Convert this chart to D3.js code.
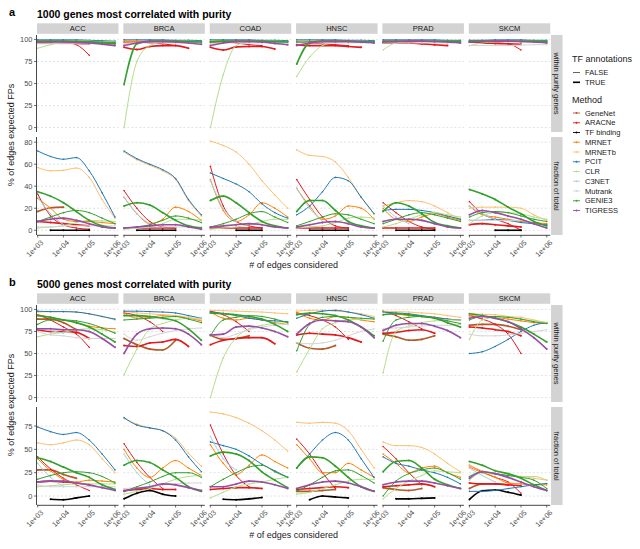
<!DOCTYPE html>
<html>
<head>
<meta charset="utf-8">
<script src="https://cdn.jsdelivr.net/npm/d3@7"></script>
<style>
  body { margin: 0; background: #fff; }
  text { font-family: "Liberation Sans", Arial, sans-serif; }
</style>
</head>
<body>
<svg id="chart" width="640" height="549"></svg>
<script>
  var cancers = ["ACC", "BRCA", "COAD", "HNSC", "PRAD", "SKCM"];
  var methods = ["GeneNet", "ARACNe", "TF binding", "MRNET", "MRNETb", "PCIT", "CLR", "C3NET", "Mutrank", "GENIE3", "TIGRESS"];
  var methodColors = ["#b15928", "#e31a1c", "#000000", "#ff7f00", "#fdbf6f", "#1f78b4", "#b2df8a", "#a6cee3", "#d4d4d4", "#33a02c", "#984ea3"];
  var edgeGrid = [1000, 3162, 10000, 31623, 100000, 316228, 1000000];
  var xTicks = [1e3, 1e4, 1e5, 1e6];
  var xTickLabels = ["1e+03", "1e+04", "1e+05", "1e+06"];
  var tfLevels = ["FALSE", "TRUE"];
  var F = false, T = true, _ = null;

  // a: 1000 genes, within purity genes
  var withinA = [
    ["ACC","Mutrank",F,[95,95,95,95,95,95,95]],
    ["ACC","C3NET",F,[97,97,96.5,96,96,_,_]],
    ["ACC","ARACNe",F,[98,98,97,94,82,_,_]],
    ["ACC","ARACNe",T,[96,96,96,95.5,95,_,_]],
    ["ACC","MRNET",F,[98,98,98,97.5,97,96.5,96]],
    ["ACC","MRNETb",F,[99,99,99,99,98.5,98,97]],
    ["ACC","PCIT",F,[99.5,99.5,99.5,99.5,99,98.5,98]],
    ["ACC","CLR",F,[90,94,97,98,98,97.5,97]],
    ["ACC","GENIE3",F,[97,97.5,98,98,97.5,97,96.5]],
    ["ACC","GENIE3",T,[98,98,98,97.5,97,96,95]],
    ["ACC","TIGRESS",T,[97,97,97,96.5,96,94.5,93]],

    ["BRCA","Mutrank",F,[95,96,96,96,96,96,96]],
    ["BRCA","ARACNe",F,[97,97,96,95,93,_,_]],
    ["BRCA","ARACNe",T,[91,88.5,92,93,93,90,_]],
    ["BRCA","MRNET",F,[97,97.5,98,98,98,97.5,97]],
    ["BRCA","MRNETb",F,[99,99,99,99,98.5,98,97.5]],
    ["BRCA","PCIT",F,[99.5,99.5,99.5,99.5,99,99,98.5]],
    ["BRCA","CLR",F,[0,75,93,97,98,98,97.5]],
    ["BRCA","GENIE3",T,[49,95,98,98,98,97.5,97]],
    ["BRCA","TIGRESS",T,[93,96,97.5,97.5,97,96,94.5]],

    ["COAD","Mutrank",F,[95,96,96,96,96,96,96]],
    ["COAD","ARACNe",F,[97,97,96,94,93,_,_]],
    ["COAD","ARACNe",T,[91,88,91.5,92,92,89,_]],
    ["COAD","MRNET",F,[97,97.5,98,98,98,97.5,97]],
    ["COAD","MRNETb",F,[99,99,99,99,98.5,98,97.5]],
    ["COAD","PCIT",F,[99.5,99.5,99.5,99.5,99,99,98.5]],
    ["COAD","CLR",F,[0,60,93,97,98,98,97.5]],
    ["COAD","GENIE3",T,[97,98,98,98,98,97.5,97]],
    ["COAD","TIGRESS",T,[93,96,97.5,97.5,97,95.5,94]],

    ["HNSC","Mutrank",F,[96,96,96,96,96,96,96]],
    ["HNSC","ARACNe",F,[97,96,95,94,93,_,_]],
    ["HNSC","ARACNe",T,[94,93,93,93,92,91,_]],
    ["HNSC","MRNETb",F,[99,99,99,99,98.5,98,97.5]],
    ["HNSC","PCIT",F,[99.5,99.5,99.5,99.5,99,99,98.5]],
    ["HNSC","CLR",F,[58,80,93,97,98,98,97.5]],
    ["HNSC","GENIE3",F,[97,97.5,98,98,98,97.5,97]],
    ["HNSC","GENIE3",T,[72,96,98,98,98,97.5,97]],
    ["HNSC","TIGRESS",T,[93,96,97.5,97.5,97.5,97,96]],

    ["PRAD","Mutrank",F,[96,96,96,96,96,96,96]],
    ["PRAD","ARACNe",F,[97,97,96,95,94,_,_]],
    ["PRAD","ARACNe",T,[96,96,96,95,94,93,_]],
    ["PRAD","MRNETb",F,[99,99,99,99,99,98.5,98]],
    ["PRAD","PCIT",F,[99.5,99.5,99.5,99.5,99.5,99,99]],
    ["PRAD","CLR",F,[88,96,97.5,98,98,98,97.5]],
    ["PRAD","GENIE3",T,[98,98,98,98,98,98,97.5]],
    ["PRAD","TIGRESS",T,[97,97.5,98,98,97.5,97,96]],

    ["SKCM","Mutrank",F,[93,93,93,93,93.5,94,94]],
    ["SKCM","ARACNe",F,[97,96.5,96,95,88,_,_]],
    ["SKCM","ARACNe",T,[97,96,95.5,95,94.5,_,_]],
    ["SKCM","MRNETb",F,[99,99,99,99,99,98.5,98]],
    ["SKCM","PCIT",F,[99,99,99.5,99.5,99.5,99,99]],
    ["SKCM","CLR",F,[93,96,97,98,98,98,97.5]],
    ["SKCM","GENIE3",T,[98,98,98,98,98,98,97.5]],
    ["SKCM","TIGRESS",T,[97,97.5,98,98,97.5,97,96]]
  ];

  // a: 1000 genes, fraction of total
  var fractionA = [
    ["ACC","Mutrank",F,[3,3,4,4,4,4,4]],
    ["ACC","C3NET",F,[30,15,5,_,_,_,_]],
    ["ACC","GeneNet",T,[17,20.5,21,_,_,_,_]],
    ["ACC","ARACNe",F,[33,13,5,2,1,_,_]],
    ["ACC","ARACNe",T,[8,7,6,5,4,_,_]],
    ["ACC","TF binding",T,[_,0,0,0,0,_,_]],
    ["ACC","MRNET",F,[29,20,10,8,8,7,6]],
    ["ACC","MRNETb",F,[57,54,54.5,56.5,48,28,11]],
    ["ACC","PCIT",F,[72,67,64.5,66,54,34,12]],
    ["ACC","CLR",F,[2,3,4,7,9,8.5,8]],
    ["ACC","GENIE3",F,[8,12,16,18,16,11,6]],
    ["ACC","GENIE3",T,[35,31,25,17,9,4,2]],
    ["ACC","TIGRESS",T,[8,10,11,9,6,3,2]],

    ["BRCA","Mutrank",F,[2,2,3,3,3,3,3]],
    ["BRCA","C3NET",F,[30,15,6,_,_,_,_]],
    ["BRCA","ARACNe",F,[36,20,8,3,2,_,_]],
    ["BRCA","ARACNe",T,[2,2,2,2,2,_,_]],
    ["BRCA","TF binding",T,[_,0,0,0,0,_,_]],
    ["BRCA","MRNET",F,[30,15,6,10,21,17,9]],
    ["BRCA","MRNETb",F,[71,64,59,54,46,27,13]],
    ["BRCA","PCIT",F,[72,65,60,55,47,28,14]],
    ["BRCA","CLR",F,[1,2,3,6,10,10,9]],
    ["BRCA","GENIE3",F,[2,3,5,9,13,11,7]],
    ["BRCA","GENIE3",T,[22,25,23,16,9,4,2]],
    ["BRCA","TIGRESS",T,[2,3,4,5,5,3,1]],

    ["COAD","C3NET",F,[45,20,8,_,_,_,_]],
    ["COAD","ARACNe",F,[58,22,8,4,2,_,_]],
    ["COAD","ARACNe",T,[2,2,2,2,2,_,_]],
    ["COAD","TF binding",T,[_,_,0,0,0,_,_]],
    ["COAD","MRNET",F,[46,18,8,14,25,20,12]],
    ["COAD","MRNETb",F,[81,77,71,60,45,32,20]],
    ["COAD","PCIT",F,[52,47,42,35,24,16,11]],
    ["COAD","CLR",F,[1,2,3,5,8,10,10]],
    ["COAD","GENIE3",F,[3,6,10,15,17,12,7]],
    ["COAD","GENIE3",T,[27,31,25,16,8,4,2]],
    ["COAD","TIGRESS",T,[3,4,5,6,5,3,2]],

    ["HNSC","C3NET",F,[38,20,8,_,_,_,_]],
    ["HNSC","ARACNe",F,[46,28,12,4,2,_,_]],
    ["HNSC","ARACNe",T,[2,2,2,2,2,_,_]],
    ["HNSC","TF binding",T,[_,0,0,0,0,_,_]],
    ["HNSC","MRNET",F,[38,22,10,13,22,20,10]],
    ["HNSC","MRNETb",F,[73,68,67,62,48,30,15]],
    ["HNSC","PCIT",F,[14,22,35,48,45,30,15]],
    ["HNSC","CLR",F,[2,3,4,7,11,12,11]],
    ["HNSC","GENIE3",F,[4,8,12,15,14,10,6]],
    ["HNSC","GENIE3",T,[17,27,27,18,8,4,2]],
    ["HNSC","TIGRESS",T,[3,5,7,8,6,3,2]],

    ["PRAD","C3NET",F,[22,12,6,_,_,_,_]],
    ["PRAD","ARACNe",F,[25,16,8,3,1,_,_]],
    ["PRAD","ARACNe",T,[2,2,2,2,2,_,_]],
    ["PRAD","TF binding",T,[_,0,0,0,0,_,_]],
    ["PRAD","MRNET",F,[20,10,8,12,15,12,9]],
    ["PRAD","MRNETb",F,[22,25,27,26,22,16,10]],
    ["PRAD","PCIT",F,[18,19,19,18,16,13,10]],
    ["PRAD","CLR",F,[3,6,10,14,16,14,12]],
    ["PRAD","GENIE3",F,[6,10,14,16,14,11,8]],
    ["PRAD","GENIE3",T,[17,25,22,15,7,4,2]],
    ["PRAD","TIGRESS",T,[8,10,10,9,6,3,2]],

    ["SKCM","Mutrank",F,[9,9,9,9,9,_,_]],
    ["SKCM","C3NET",F,[22,15,10,_,_,_,_]],
    ["SKCM","ARACNe",F,[26,15,10,6,0,_,_]],
    ["SKCM","ARACNe",T,[5,6,5,4,3,_,_]],
    ["SKCM","TF binding",T,[_,_,0,0,0,_,_]],
    ["SKCM","MRNET",F,[22,14,12,10,8,7,6]],
    ["SKCM","MRNETb",F,[20,21,21,21,20,14,9]],
    ["SKCM","PCIT",F,[9,9,10,9,7,6,5]],
    ["SKCM","CLR",F,[6,13,16,16,15,12,10]],
    ["SKCM","GENIE3",F,[12,16,17,16,13,10,8]],
    ["SKCM","GENIE3",T,[37,33,28,21,15,8,4]],
    ["SKCM","TIGRESS",T,[14,18,16,13,10,6,2]]
  ];

  // b: 5000 genes, within purity genes
  var withinB = [
    ["ACC","Mutrank",F,[75,71,70,68,67,67,67]],
    ["ACC","C3NET",F,[78,76,73,_,_,_,_]],
    ["ACC","GeneNet",T,[89,89,85,77,_,_,_]],
    ["ACC","ARACNe",F,[94,88,80,72,57,_,_]],
    ["ACC","ARACNe",T,[77,75,75,74,67,_,_]],
    ["ACC","MRNET",F,[94,91,88,85,81,79,78]],
    ["ACC","MRNETb",F,[97,97.5,97.5,97,95,92,88]],
    ["ACC","PCIT",F,[98,97.5,97.5,97,95,92,89]],
    ["ACC","CLR",F,[69,72,74,77,78,77,74]],
    ["ACC","GENIE3",F,[83,88,88,87,84,79,73]],
    ["ACC","GENIE3",T,[93,91,88,85,80,72,63]],
    ["ACC","TIGRESS",T,[78,78,77,77,75,67,57]],

    ["BRCA","Mutrank",F,[72,65,69,73,76,78,79]],
    ["BRCA","GeneNet",T,[67,60,55,54,65,_,_]],
    ["BRCA","ARACNe",F,[96,93,86,75,_,_,_]],
    ["BRCA","ARACNe",T,[59,58,62,63,66,58,_]],
    ["BRCA","MRNET",F,[96,90,91,93,92,90,87]],
    ["BRCA","MRNETb",F,[98,96,95,94,93,91,88]],
    ["BRCA","PCIT",F,[98,98,97.5,97,96,93,90]],
    ["BRCA","CLR",F,[26,55,78,84,88,90,90]],
    ["BRCA","GENIE3",F,[88,89,90,91,92,89,85]],
    ["BRCA","GENIE3",T,[93,93,92,90,87,78,65]],
    ["BRCA","TIGRESS",T,[50,72,78,79,78,72,60]],

    ["COAD","Mutrank",F,[72,68,72,77,80,82,83]],
    ["COAD","GeneNet",T,[71,66,67,70,_,_,_]],
    ["COAD","ARACNe",F,[98,94,86,75,_,_,_]],
    ["COAD","ARACNe",T,[60,65,67,68,68,61,_]],
    ["COAD","MRNET",F,[97,90,88,90,88,85,83]],
    ["COAD","MRNETb",F,[99,98.5,98,97.5,97,96,95]],
    ["COAD","PCIT",F,[97,95.5,93,90,88,87,86]],
    ["COAD","CLR",F,[0,45,68,78,82,84,85]],
    ["COAD","GENIE3",F,[70,88,91,93,92,89,85]],
    ["COAD","GENIE3",T,[96,95,94,92,89,83,75]],
    ["COAD","TIGRESS",T,[71,72,80,81,79,75,69]],

    ["HNSC","Mutrank",F,[62,61,62,65,70,75,78]],
    ["HNSC","GeneNet",T,[62,56,55,59,_,_,_]],
    ["HNSC","ARACNe",F,[96,93,88,80,66,_,_]],
    ["HNSC","ARACNe",T,[71,73,72,71,68,63,_]],
    ["HNSC","MRNET",F,[97,90,88,92,91,88,86]],
    ["HNSC","MRNETb",F,[98,99,99,98,97,95,92]],
    ["HNSC","PCIT",F,[90,95,98,99,97,94,90]],
    ["HNSC","CLR",F,[29,55,78,85,88,89,90]],
    ["HNSC","GENIE3",F,[53,83,91,92,91,90,89]],
    ["HNSC","GENIE3",T,[94,96,95,93,88,80,70]],
    ["HNSC","TIGRESS",T,[72,84,88,87,86,80,68]],

    ["PRAD","Mutrank",F,[78,79,80,81,82,82,83]],
    ["PRAD","GeneNet",T,[72,69,65,66,70,_,_]],
    ["PRAD","ARACNe",F,[98,93,86,78,_,_,_]],
    ["PRAD","ARACNe",T,[73,74,76,77,73,_,_]],
    ["PRAD","MRNET",F,[98,95,93,92,91,89,88]],
    ["PRAD","MRNETb",F,[98,97.5,97,96,95,93,91]],
    ["PRAD","PCIT",F,[97,96,95,93,91,89,88]],
    ["PRAD","CLR",F,[28,75,81,85,87,88,88]],
    ["PRAD","GENIE3",F,[64,88,91,92,90,87,84]],
    ["PRAD","GENIE3",T,[94,95,94,92,90,85,80]],
    ["PRAD","TIGRESS",T,[76,82,84,84,81,76,68]],

    ["SKCM","Mutrank",F,[72,70,70,71,73,75,77]],
    ["SKCM","GeneNet",T,[82,83,83,81,77,_,_]],
    ["SKCM","ARACNe",F,[93,89,83,72,50,_,_]],
    ["SKCM","ARACNe",T,[80,79,77,75,70,_,_]],
    ["SKCM","MRNET",F,[93,92,91,89,87,85,84]],
    ["SKCM","MRNETb",F,[95,94.5,94,92,91,88,85]],
    ["SKCM","PCIT",F,[50,52,58,66,75,82,85]],
    ["SKCM","CLR",F,[66,88,91,91,89,87,85]],
    ["SKCM","GENIE3",F,[88,92,92,91,89,86,84]],
    ["SKCM","GENIE3",T,[95,93,90,86,80,72,63]],
    ["SKCM","TIGRESS",T,[90,92,90,86,78,68,55]]
  ];

  // b: 5000 genes, fraction of total
  var fractionB = [
    ["ACC","Mutrank",F,[12,10,10,10,10,10,10]],
    ["ACC","C3NET",F,[35,20,10,_,_,_,_]],
    ["ACC","GeneNet",T,[28,28,23,19,_,_,_]],
    ["ACC","ARACNe",F,[42,29,19,12,6,_,_]],
    ["ACC","ARACNe",T,[15,16,15,14,12,_,_]],
    ["ACC","TF binding",T,[_,-3.5,-4,-2,0,_,_]],
    ["ACC","MRNET",F,[40,27,18,15,17,16,15]],
    ["ACC","MRNETb",F,[57,55,57,60,55,40,25]],
    ["ACC","PCIT",F,[74,69,66,68,60,45,28]],
    ["ACC","CLR",F,[10,11,12,13,13,13,13]],
    ["ACC","GENIE3",F,[18,22,25,26,25,21,14]],
    ["ACC","GENIE3",T,[41,37,31,25,20,12,7]],
    ["ACC","TIGRESS",T,[15,16,16,14,12,9,6]],

    ["BRCA","Mutrank",F,[8,9,10,12,13,14,14]],
    ["BRCA","C3NET",F,[45,25,12,_,_,_,_]],
    ["BRCA","ARACNe",F,[56,36,20,8,_,_,_]],
    ["BRCA","ARACNe",T,[6,7,8,7,7,_,_]],
    ["BRCA","TF binding",T,[-3,3,6,2,0,_,_]],
    ["BRCA","MRNET",F,[50,30,20,30,38,30,22]],
    ["BRCA","MRNETb",F,[83,77,73,70,62,46,32]],
    ["BRCA","PCIT",F,[84,76,73,70,60,42,26]],
    ["BRCA","CLR",F,[2,5,8,13,18,21,22]],
    ["BRCA","GENIE3",F,[5,10,15,21,25,25,20]],
    ["BRCA","GENIE3",T,[33,38,36,28,20,10,5]],
    ["BRCA","TIGRESS",T,[5,8,10,13,12,9,6]],

    ["COAD","C3NET",F,[64,40,28,_,_,_,_]],
    ["COAD","ARACNe",F,[76,45,22,10,_,_,_]],
    ["COAD","ARACNe",T,[7,8,9,9,8,_,_]],
    ["COAD","TF binding",T,[_,-3.5,-4,-3,-1.5,_,_]],
    ["COAD","MRNET",F,[55,35,23,33,44,37,30]],
    ["COAD","MRNETb",F,[90,88,84,78,70,60,48]],
    ["COAD","PCIT",F,[58,54,50,43,34,27,20]],
    ["COAD","CLR",F,[-2,4,10,13,15,18,20]],
    ["COAD","GENIE3",F,[10,18,25,31,33,26,20]],
    ["COAD","GENIE3",T,[43,47,45,38,26,17,9]],
    ["COAD","TIGRESS",T,[10,10,13,16,15,12,8]],

    ["HNSC","GeneNet",T,[5,5,6,7,_,_,_]],
    ["HNSC","ARACNe",F,[61,45,25,8,_,_,_]],
    ["HNSC","ARACNe",T,[7,8,9,10,9,_,_]],
    ["HNSC","TF binding",T,[_,-4,0,-1,-2,_,_]],
    ["HNSC","MRNET",F,[55,40,25,25,35,28,20]],
    ["HNSC","MRNETb",F,[79,78,79,78,70,50,30]],
    ["HNSC","PCIT",F,[30,45,60,68,60,40,20]],
    ["HNSC","CLR",F,[2,4,8,12,16,18,18]],
    ["HNSC","GENIE3",F,[5,12,20,27,28,22,14]],
    ["HNSC","GENIE3",T,[30,42,41,32,20,10,5]],
    ["HNSC","TIGRESS",T,[8,12,15,16,14,10,5]],

    ["PRAD","GeneNet",T,[9,7,6,8,_,_,_]],
    ["PRAD","ARACNe",F,[53,40,25,12,_,_,_]],
    ["PRAD","ARACNe",T,[10,11,12,13,10,_,_]],
    ["PRAD","TF binding",T,[_,-3,-3,-2.5,-2,_,_]],
    ["PRAD","MRNET",F,[45,35,25,30,32,25,20]],
    ["PRAD","MRNETb",F,[58,54,54,52,45,35,26]],
    ["PRAD","PCIT",F,[42,35,32,28,25,20,13]],
    ["PRAD","CLR",F,[-3,8,16,22,27,26,25]],
    ["PRAD","GENIE3",F,[0,16,24,28,30,25,18]],
    ["PRAD","GENIE3",T,[26,37,38,30,18,12,8]],
    ["PRAD","TIGRESS",T,[12,15,16,16,14,11,8]],

    ["SKCM","C3NET",F,[30,22,15,_,_,_,_]],
    ["SKCM","GeneNet",T,[8,13,13,12,_,_,_]],
    ["SKCM","ARACNe",F,[33,26,20,15,3,_,_]],
    ["SKCM","ARACNe",T,[14,13,13,12,11,_,_]],
    ["SKCM","TF binding",T,[-3.6,5.7,6.4,4,1,_,_]],
    ["SKCM","MRNET",F,[31,25,20,14,13,12,12]],
    ["SKCM","MRNETb",F,[33,27,24,22,21,19,17]],
    ["SKCM","PCIT",F,[5,5,6,8,10,12,13.5]],
    ["SKCM","CLR",F,[17,25,23,22,21,21,17]],
    ["SKCM","GENIE3",F,[21,26,24,22,20,17,8]],
    ["SKCM","GENIE3",T,[37,33,27,24,19,12,6]],
    ["SKCM","TIGRESS",T,[19,26,24,20,15,10,6]]
  ];

  var svg = d3.select("#chart");
  var colLeft = 37, colStep = 86.35, panelW = 81.5, stripW = 11.5;
  var color = d3.scaleOrdinal().domain(methods).range(methodColors);

  var x = d3.scaleLog()
    .domain([Math.pow(10, 2.973), Math.pow(10, 6.136)])
    .range([0, panelW]);

  var sections = [
    {tag: "a", title: "1000 genes most correlated with purity", off: 0,
     rows: [
       {data: withinA, label: "within purity genes", top: 35, h: 97, domain: [-5, 105], ticks: [0, 25, 50, 75, 100]},
       {data: fractionA, label: "fraction of total", top: 137, h: 98, domain: [-4.3, 84.7], ticks: [0, 20, 40, 60, 80]}
     ]},
    {tag: "b", title: "5000 genes most correlated with purity", off: 270,
     rows: [
       {data: withinB, label: "within purity genes", top: 35, h: 97, domain: [-5, 105], ticks: [0, 25, 50, 75, 100]},
       {data: fractionB, label: "fraction of total", top: 137, h: 98, domain: [-9.6, 95.4], ticks: [0, 25, 50, 75]}
     ]}
  ];

  sections.forEach(function(sec) {
    var g = svg.append("g").attr("transform", "translate(0," + sec.off + ")");

    g.append("text").attr("x", 9).attr("y", 16)
      .style("font-size", "11px").style("font-weight", "bold").text(sec.tag);
    g.append("text").attr("x", 37).attr("y", 17.5)
      .style("font-size", "10.5px").style("font-weight", "bold").text(sec.title);

    // strips on top
    cancers.forEach(function(c, i) {
      var px = colLeft + i * colStep;
      g.append("rect").attr("x", px).attr("y", 23.3).attr("width", panelW).attr("height", 10.5)
        .attr("fill", "#d3d3d3");
      g.append("text").attr("x", px + panelW / 2).attr("y", 31.2)
        .attr("text-anchor", "middle").style("font-size", "7.5px").attr("fill", "#1a1a1a").text(c);
    });

    sec.rows.forEach(function(row, ri) {
      var y = d3.scaleLinear().domain(row.domain).range([row.top + row.h, row.top]);
      var line = d3.line()
        .defined(function(d) { return d[1] != null; })
        .x(function(d) { return x(d[0]); })
        .y(function(d) { return y(d[1]); })
        .curve(d3.curveMonotoneX);

      // right strip
      var sx = colLeft + 5 * colStep + panelW + 0.8;
      g.append("rect").attr("x", sx).attr("y", row.top).attr("width", stripW).attr("height", row.h)
        .attr("fill", "#d3d3d3");
      g.append("text")
        .attr("transform", "translate(" + (sx + 3.2) + "," + (row.top + row.h / 2) + ") rotate(90)")
        .attr("text-anchor", "middle").style("font-size", "7.5px").attr("fill", "#1a1a1a").text(row.label);

      cancers.forEach(function(c, i) {
        var px = colLeft + i * colStep;
        var pg = g.append("g").attr("transform", "translate(" + px + ",0)");

        pg.selectAll("line.grid").data(row.ticks).enter().append("line")
          .attr("x1", 0).attr("x2", panelW)
          .attr("y1", function(t) { return y(t); }).attr("y2", function(t) { return y(t); })
          .attr("stroke", "#cfcfcf").attr("stroke-width", 0.6).attr("stroke-dasharray", "2,2");

        var series = row.data.filter(function(s) { return s[0] == c; })
          .map(function(s) {
            return {method: s[1], tf: s[2], pts: s[3].map(function(v, k) { return [edgeGrid[k], v]; })};
          });
        series.sort(function(a, b) { return methods.indexOf(a.method) - methods.indexOf(b.method); });

        series.forEach(function(s) {
          pg.append("path").datum(s.pts)
            .attr("fill", "none")
            .attr("stroke", color(s.method))
            .attr("stroke-width", s.tf ? 1.6 : 1.0)
            .attr("d", line);
          pg.selectAll(null).data(s.pts.filter(function(d) { return d[1] != null; })).enter()
            .append("circle")
            .attr("cx", function(d) { return x(d[0]); })
            .attr("cy", function(d) { return y(d[1]); })
            .attr("r", s.tf ? 1.0 : 0.8)
            .attr("fill", color(s.method));
        });

        // x axis on the lower row
        if (ri == 1) {
          var bottom = row.top + row.h;
          pg.append("line").attr("x1", 0).attr("x2", panelW).attr("y1", bottom + 0.3).attr("y2", bottom + 0.3)
            .attr("stroke", "#333").attr("stroke-width", 0.9);
          xTicks.forEach(function(t, k) {
            pg.append("line").attr("x1", x(t)).attr("x2", x(t)).attr("y1", bottom).attr("y2", bottom + 2.5)
              .attr("stroke", "#333").attr("stroke-width", 0.7);
            pg.append("text")
              .attr("transform", "translate(" + (x(t) + 2.5) + "," + (bottom + 4.5) + ") rotate(-45)")
              .attr("text-anchor", "end").attr("dy", "0.7em")
              .style("font-size", "7.3px").attr("fill", "#4d4d4d").text(xTickLabels[k]);
          });
        }

        // y axis on the first column
        if (i == 0) {
          pg.append("line").attr("x1", -0.5).attr("x2", -0.5).attr("y1", row.top).attr("y2", row.top + row.h)
            .attr("stroke", "#333").attr("stroke-width", 0.9);
          row.ticks.forEach(function(t) {
            pg.append("line").attr("x1", -3).attr("x2", -0.5).attr("y1", y(t)).attr("y2", y(t))
              .attr("stroke", "#333").attr("stroke-width", 0.7);
            pg.append("text").attr("x", -4.5).attr("y", y(t)).attr("dy", "0.35em")
              .attr("text-anchor", "end").style("font-size", "7.5px").attr("fill", "#4d4d4d").text(t);
          });
        }
      });
    });

    g.append("text")
      .attr("transform", "translate(14," + 135 + ") rotate(-90)")
      .attr("text-anchor", "middle").style("font-size", "9px").attr("fill", "#1a1a1a")
      .text("% of edges expected FPs");
    g.append("text").attr("x", colLeft + (5 * colStep + panelW) / 2).attr("y", 268)
      .attr("text-anchor", "middle").style("font-size", "9px").attr("fill", "#1a1a1a")
      .text("# of edges considered");
  });

  // legends
  var lg = svg.append("g").attr("transform", "translate(572,0)");
  lg.append("text").attr("x", 0).attr("y", 62).style("font-size", "9px").attr("fill", "#1a1a1a").text("TF annotations");
  tfLevels.forEach(function(lv, k) {
    var cy = 72.5 + k * 9.8;
    lg.append("line").attr("x1", 1).attr("x2", 8).attr("y1", cy).attr("y2", cy)
      .attr("stroke", k == 0 ? "#555" : "#000").attr("stroke-width", k == 0 ? 0.9 : 1.6);
    lg.append("text").attr("x", 13).attr("y", cy).attr("dy", "0.35em")
      .style("font-size", "7.5px").attr("fill", "#1a1a1a").text(lv);
  });
  lg.append("text").attr("x", 0).attr("y", 103).style("font-size", "9px").attr("fill", "#1a1a1a").text("Method");
  methods.forEach(function(m, k) {
    var cy = 113 + k * 9.75;
    lg.append("line").attr("x1", 1).attr("x2", 8).attr("y1", cy).attr("y2", cy)
      .attr("stroke", color(m)).attr("stroke-width", 0.9);
    lg.append("circle").attr("cx", 4.5).attr("cy", cy).attr("r", 0.9).attr("fill", color(m));
    lg.append("text").attr("x", 13).attr("y", cy).attr("dy", "0.35em")
      .style("font-size", "7.5px").attr("fill", "#1a1a1a").text(m);
  });
</script>
</body>
</html>
